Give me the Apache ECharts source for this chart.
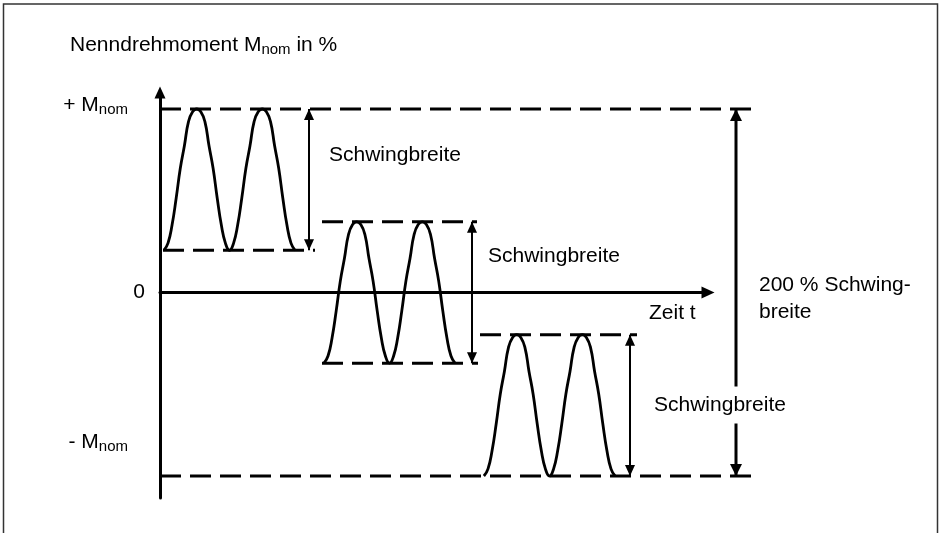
<!DOCTYPE html>
<html>
<head>
<meta charset="utf-8">
<script src="https://cdn.jsdelivr.net/npm/echarts@6/dist/echarts.min.js"></script>
<style>html,body{margin:0;padding:0;background:#fff}#c{width:940px;height:533px}</style>
</head>
<body>
<div id="c"></div>
<script>
// ---- data (time in arbitrary units along the t axis, torque in % of M_nom) ----
const yTickValues = [100, 0, -100];
const yTickLabels = ['+ M', '0', '- M'];
const yTickSubs   = ['nom', '', 'nom'];

const wave1T = [3.9, 8, 12.1, 16.2, 20.3, 24.4, 28.5, 32.6, 36.7, 40.8, 44.9, 49, 53.1, 57.2, 61.3, 65.4, 69.5,
                73.6, 77.7, 81.8, 85.9, 90, 94.1, 98.2, 102.3, 106.4, 110.5, 114.6, 118.7, 122.8, 126.9, 131, 135.1];
const wave1M = [23, 26.9, 36.9, 51.5, 67.7, 80, 93.1, 98.5, 100, 98.5, 93.1, 80, 67.7, 51.5, 36.9, 26.9, 23,
                26.9, 36.9, 51.5, 67.7, 80, 93.1, 98.5, 100, 98.5, 93.1, 80, 67.7, 51.5, 36.9, 26.9, 23];
const wave2T = [163.9, 168, 172.1, 176.2, 180.3, 184.4, 188.5, 192.6, 196.7, 200.8, 204.9, 209, 213.1, 217.2, 221.3, 225.4, 229.5,
                233.6, 237.7, 241.8, 245.9, 250, 254.1, 258.2, 262.3, 266.4, 270.5, 274.6, 278.7, 282.8, 286.9, 291, 295.1];
const wave2M = [-38.5, -34.6, -24.6, -10, 6.2, 18.5, 31.6, 37, 38.5, 37, 31.6, 18.5, 6.2, -10, -24.6, -34.6, -38.5,
                -34.6, -24.6, -10, 6.2, 18.5, 31.6, 37, 38.5, 37, 31.6, 18.5, 6.2, -10, -24.6, -34.6, -38.5];
const wave3T = [323.9, 328, 332.1, 336.2, 340.3, 344.4, 348.5, 352.6, 356.7, 360.8, 364.9, 369, 373.1, 377.2, 381.3, 385.4, 389.5,
                393.6, 397.7, 401.8, 405.9, 410, 414.1, 418.2, 422.3, 426.4, 430.5, 434.6, 438.7, 442.8, 446.9, 451, 455.1];
const wave3M = [-100, -96.1, -86.1, -71.5, -55.3, -43, -29.9, -24.5, -23, -24.5, -29.9, -43, -55.3, -71.5, -86.1, -96.1, -100,
                -96.1, -86.1, -71.5, -55.3, -43, -29.9, -24.5, -23, -24.5, -29.9, -43, -55.3, -71.5, -86.1, -96.1, -100];

// dashed reference levels
const levelM    = [100, 23, 38.5, -38.5, -23, -100];
const levelFrom = [0, 3, 162, 162, 320, 0];
const levelTo   = [592, 155, 317, 318, 477, 592];

// double arrows (Schwingbreite)
const arrowT      = [149, 312, 470, 576];
const arrowTop    = [100, 38.5, -23, 100];
const arrowBottom = [23, -38.5, -100, -100];

// ---- chart ----
const FONT = "'Liberation Sans', Arial, sans-serif";
const BLACK = '#000';
const chart = echarts.init(document.getElementById('c'));

function zip(t, m) { return t.map((x, i) => [x, m[i]]); }

const onData = { xAxisIndex: 1, yAxisIndex: 1 };
const series = [];
[[wave1T, wave1M], [wave2T, wave2M], [wave3T, wave3M]].forEach(([t, m], i) => {
  series.push(Object.assign({
    type: 'line', name: 'wave' + (i + 1), data: zip(t, m), smooth: 0.5,
    showSymbol: false, clip: false, silent: true, z: 3,
    lineStyle: { color: BLACK, width: 2.8 }
  }, onData));
});
levelM.forEach((m, i) => {
  series.push(Object.assign({
    type: 'line', data: [[levelFrom[i], m], [levelTo[i], m]],
    showSymbol: false, clip: false, silent: true, z: 2,
    lineStyle: { color: BLACK, width: 3, type: [21, 9] }
  }, onData));
});
arrowT.forEach((t, i) => {
  const big = i === arrowT.length - 1;
  const w = big ? 12 : 10, h = big ? 12 : 11;
  series.push(Object.assign({
    type: 'line', clip: false, silent: true, z: 4, showSymbol: true, showAllSymbol: true,
    data: [
      { value: [t, arrowTop[i]], symbol: 'triangle', symbolSize: [w, h], symbolRotate: 0, symbolOffset: [0, h / 2] },
      { value: [t, arrowBottom[i]], symbol: 'triangle', symbolSize: [w, h], symbolRotate: 180, symbolOffset: [0, -h / 2] }
    ],
    lineStyle: { color: BLACK, width: big ? 3 : 2 },
    itemStyle: { color: BLACK, borderWidth: 0 }
  }, onData));
});

const textBase = { font: '21px ' + FONT, fill: BLACK };
const hiddenAxis = { show: false, splitLine: { show: false }, axisTick: { show: false }, axisLabel: { show: false }, axisLine: { show: false } };

chart.setOption({
  animation: false,
  title: {
    text: '{t|Nenndrehmoment M}{s|nom}{t| in %}',
    left: 70, top: 33, padding: 0,
    textStyle: {
      rich: {
        t: { fontFamily: FONT, fontSize: 21, lineHeight: 24, color: BLACK, fontWeight: 'normal' },
        s: { fontFamily: FONT, fontSize: 15, lineHeight: 14, color: BLACK, verticalAlign: 'bottom', fontWeight: 'normal' }
      }
    }
  },
  grid: [
    { left: 160, right: 232, top: 92.5, bottom: 35, containLabel: false },
    { left: 160, right: 180, top: 92.5, bottom: 35, containLabel: false }
  ],
  xAxis: [
    {
      type: 'value', gridIndex: 0, min: 0, max: 548,
      splitLine: { show: false }, axisTick: { show: false }, axisLabel: { show: false },
      axisLine: { show: true, onZero: true, symbol: ['none', 'triangle'], symbolSize: [12, 13],
        lineStyle: { color: BLACK, width: 3 } }
    },
    Object.assign({ type: 'value', gridIndex: 1, min: 0, max: 600 }, hiddenAxis)
  ],
  yAxis: [
    {
      type: 'value', gridIndex: 0, min: -112, max: 109,
      splitLine: { show: false }, axisTick: { show: false },
      axisLine: { show: true, onZero: true, symbol: ['none', 'triangle'], symbolSize: [11, 12],
        lineStyle: { color: BLACK, width: 3 } },
      axisLabel: {
        customValues: yTickValues, margin: 15,
        formatter: function (v) {
          const i = yTickValues.indexOf(v);
          if (i < 0) return '';
          if (yTickSubs[i]) {
            return '{m|' + yTickLabels[i] + '}{s|' + yTickSubs[i] + '}{p| }' + (v > 0 ? '\n{ga| }' : '\n{gb| }');
          }
          return '{m|' + yTickLabels[i] + '}';
        },
        rich: {
          m: { fontFamily: FONT, fontSize: 21, lineHeight: 24, color: BLACK },
          s: { fontFamily: FONT, fontSize: 15, lineHeight: 14, color: BLACK, verticalAlign: 'bottom' },
          p: { fontSize: 1, width: 17 },
          ga: { fontSize: 1, lineHeight: 8 },
          gb: { fontSize: 1, lineHeight: 68 }
        }
      }
    },
    Object.assign({ type: 'value', gridIndex: 1, min: -112, max: 109 }, hiddenAxis)
  ],
  graphic: [
    { type: 'rect', silent: true, z: 0, shape: { x: 3.5, y: 4, width: 934, height: 600 },
      style: { fill: 'none', stroke: '#333', lineWidth: 1.5 } },
    { type: 'text', z: 100, x: 329, y: 155, style: Object.assign({ text: 'Schwingbreite', verticalAlign: 'middle' }, textBase) },
    { type: 'text', z: 100, x: 488, y: 256, style: Object.assign({ text: 'Schwingbreite', verticalAlign: 'middle' }, textBase) },
    { type: 'text', z: 100, x: 652, y: 405, style: Object.assign({ text: 'Schwingbreite', verticalAlign: 'middle',
        backgroundColor: '#fff', padding: [3, 2, 13, 2] }, textBase) },
    { type: 'text', z: 100, x: 649, y: 313, style: Object.assign({ text: 'Zeit t', verticalAlign: 'middle' }, textBase) },
    { type: 'text', z: 100, x: 759, y: 271.5, style: Object.assign({ text: '200 % Schwing-\nbreite', verticalAlign: 'top', lineHeight: 27 }, textBase) }
  ],
  series: series
});
</script>
</body>
</html>
